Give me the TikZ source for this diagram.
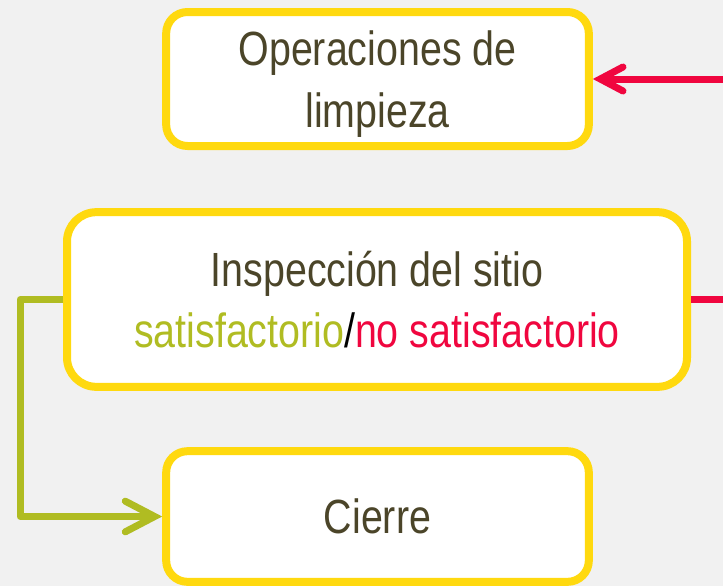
\documentclass[tikz,border=0pt]{standalone}
\usepackage{fontspec}
\setmainfont[FakeStretch=0.82]{Liberation Sans}
\usepackage{tikz}
\usetikzlibrary{positioning,arrows.meta}

\definecolor{fondo}{HTML}{F1F1F1}
\definecolor{amarillo}{HTML}{FFD90F}
\definecolor{oliva}{HTML}{4B4529}
\definecolor{verde}{HTML}{B0BC22}
\definecolor{rojo}{HTML}{F0063F}

\begin{document}
\begin{tikzpicture}[x=0.75pt,y=-0.75pt,line join=round,
                    every node/.style={font=\fontsize{36}{46}\selectfont}]
  \tikzstyle{caja}=[draw=amarillo,fill=white,line width=6pt,rounded corners=16pt,
                    text=oliva,align=center,minimum width=317pt]
  \tikzstyle{si}=[draw=verde,line width=5.25pt,
                  -{Straight Barb[length=22pt,width=23pt,line cap=round]}]
  \tikzstyle{no}=[draw=rojo,line width=5.25pt]

  \fill[fondo] (0,0) rectangle (723,586);
  \useasboundingbox (0,0) rectangle (723,586);

  \node[caja,minimum height=100.5pt,text depth=0pt]       (limpieza) at (377.5,79)  {Operaciones de\\limpieza};
  \node[caja,minimum width=465pt,minimum height=131pt,
        rounded corners=22pt]                            (inspeccion) at (377,299.5) {Inspección del sitio\\
        \textcolor{verde}{satisfactorio}\textcolor{black}{/}\textcolor{rojo}{no satisfactorio}};
  \node[caja,minimum height=98pt]                         (cierre) at (377.5,516.5) {Cierre};

  \coordinate (codo)    at (20,299.5);
  \coordinate (salida)  at (723,299.5);
  \coordinate (entrada) at (723,79);

  \draw[si] (inspeccion.west) -- (codo) |- (cierre.west);
  \draw[no] (inspeccion.east) -- (salida);
  \draw[no,-{Straight Barb[length=17pt,width=18pt,line cap=round]}] (entrada) -- (limpieza.east);
\end{tikzpicture}
\end{document}
